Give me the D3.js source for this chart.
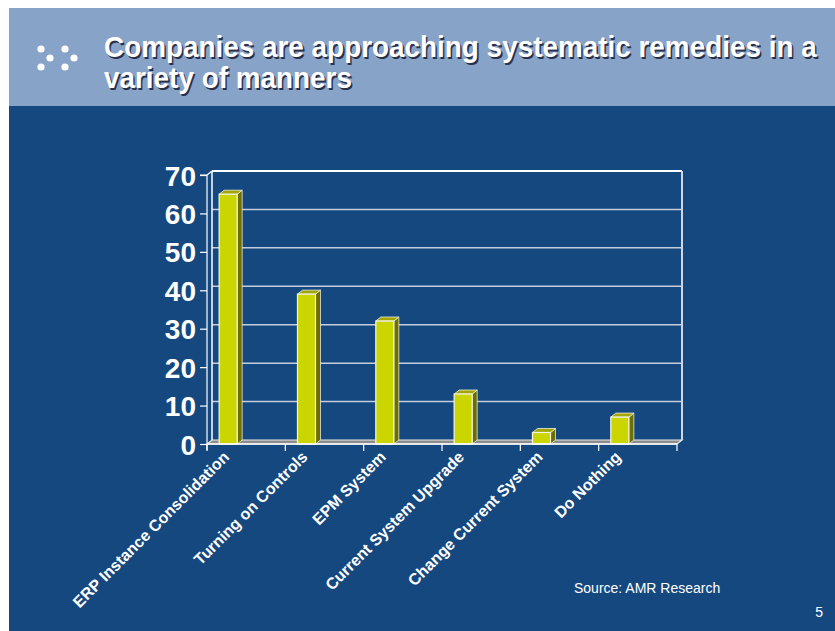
<!DOCTYPE html>
<html>
<head>
<meta charset="utf-8">
<script src="https://cdn.jsdelivr.net/npm/d3@7"></script>
<style>
  html, body { margin:0; padding:0; background:#fff; }
  svg { display:block; font-family: "Liberation Sans", Arial, sans-serif; }
</style>
</head>
<body>
<div id="chart"></div>
<script>
// data
const titleLines = ["Companies are approaching systematic remedies in a", "variety of manners"];
const categories = ["ERP Instance Consolidation", "Turning on Controls", "EPM System",
                    "Current System Upgrade", "Change Current System", "Do Nothing"];
const values = [65, 39, 32, 13, 3, 7];
const yTicks = [0, 10, 20, 30, 40, 50, 60, 70];
const sourceNote = "Source: AMR Research";
const pageNumber = "5";

const W = 835, H = 631;
const depth = { dx: 5, dy: -4 };   // fake 3d offset of the back wall

const svg = d3.select("#chart").append("svg")
    .attr("width", W)
    .attr("height", H);

// slide background
svg.append("rect").attr("x", 9).attr("y", 8).attr("width", W - 9).attr("height", H - 8)
    .attr("fill", "#164880");
svg.append("rect").attr("x", 9).attr("y", 8).attr("width", W - 9).attr("height", 98)
    .attr("fill", "#87a3c8");

// bullet dots
const dots = [[41, 49], [50, 58], [41, 67], [65, 49], [74, 58], [65, 67]];
svg.selectAll(".dot").data(dots).enter().append("circle")
    .attr("class", "dot")
    .attr("cx", d => d[0]).attr("cy", d => d[1]).attr("r", 3.6)
    .attr("fill", "#fff");

// title (condensed bold with a drop shadow)
const titleG = svg.append("g").attr("transform", "translate(104,0)");
function titleText(g, fill, off) {
    g.selectAll(null).data(titleLines).enter().append("text")
        .attr("x", off)
        .attr("y", (d, i) => 57 + i * 31 + off)
        .attr("font-size", "29px")
        .attr("font-weight", "bold")
        .attr("fill", fill)
        .text(d => d);
}
const shadowG = titleG.append("g");
const mainG = titleG.append("g");
titleText(shadowG, "#2a3048", 1.6);
titleText(mainG, "#ffffff", 0);
const w1 = mainG.select("text").node().getComputedTextLength();
const sx = 713 / w1;
titleG.attr("transform", "translate(104,0) scale(" + sx + ",1)");

// scales
const x = d3.scaleBand().domain(categories).range([207, 677]).padding(0);
const y = d3.scaleLinear().domain([0, 70]).range([444, 175]);
const bw = x.bandwidth();

const g = svg.append("g");

// floor
const x0 = 207, x1 = 677, yb = y(0), yt = y(70);
g.append("path")
    .attr("d", `M${x0},${yb} L${x0 + depth.dx},${yb + depth.dy} L${x1 + depth.dx},${yb + depth.dy} L${x1},${yb} Z`)
    .attr("fill", "#8c8c8c").attr("stroke", "#e8e8e8").attr("stroke-width", 1.2);

// back wall gridlines
g.selectAll(".grid").data(yTicks.filter(d => d > 0)).enter().append("line")
    .attr("class", "grid")
    .attr("x1", x0 + depth.dx).attr("x2", x1 + depth.dx)
    .attr("y1", d => y(d) + depth.dy).attr("y2", d => y(d) + depth.dy)
    .attr("stroke", d => d === 70 ? "#ffffff" : "#c3cddd")
    .attr("stroke-width", d => d === 70 ? 2 : 1.5);

// wall edges
g.append("line")
    .attr("x1", x0 + depth.dx).attr("x2", x0 + depth.dx)
    .attr("y1", yt + depth.dy).attr("y2", yb + depth.dy)
    .attr("stroke", "#ffffff").attr("stroke-width", 1.5);
g.append("line")
    .attr("x1", x1 + depth.dx).attr("x2", x1 + depth.dx)
    .attr("y1", yt + depth.dy).attr("y2", yb + depth.dy)
    .attr("stroke", "#d0d6e2").attr("stroke-width", 2);
g.append("line")
    .attr("x1", x0).attr("x2", x0 + depth.dx)
    .attr("y1", yt).attr("y2", yt + depth.dy)
    .attr("stroke", "#ffffff").attr("stroke-width", 1.2);

// y axis
const yAxisCall = d3.axisLeft(y).tickValues(yTicks).tickSize(7).tickPadding(4);
const yAxis = svg.append("g")
    .attr("class", "y axis")
    .attr("transform", "translate(" + x0 + ",0)")
    .call(yAxisCall);
yAxis.select(".domain").attr("stroke", "#fff").attr("stroke-width", 1.2)
    .attr("d", `M-7,${yt}H0V${yb + 6}`);
yAxis.selectAll(".tick line").attr("stroke", "#fff").attr("stroke-width", 1.2);
yAxis.selectAll(".tick text")
    .attr("fill", "#fff")
    .attr("font-size", "28px")
    .attr("font-weight", "bold")
    .attr("font-family", '"Liberation Sans", Arial, sans-serif')
    .attr("dy", "0.36em");

// x ticks at band edges
const edges = categories.map(c => x(c)).concat([x1]);
g.selectAll(".xtick").data(edges).enter().append("line")
    .attr("class", "xtick")
    .attr("x1", d => d).attr("x2", d => d)
    .attr("y1", yb).attr("y2", yb + 7)
    .attr("stroke", "#fff").attr("stroke-width", 1.2);

// bars (front, side, top)
const barW = bw * 0.23, barOff = bw * 0.155;
const bars = g.selectAll(".bar").data(values).enter().append("g").attr("class", "bar");
bars.append("path")
    .attr("d", (d, i) => {
        const bx = x(categories[i]) + barOff + barW, top = y(d);
        return `M${bx},${top} L${bx + depth.dx},${top + depth.dy} L${bx + depth.dx},${yb + depth.dy} L${bx},${yb} Z`;
    })
    .attr("fill", "#6e6e00").attr("stroke", "#e8e8d8").attr("stroke-width", 0.8);
bars.append("path")
    .attr("d", (d, i) => {
        const bx = x(categories[i]) + barOff, top = y(d);
        return `M${bx},${top} L${bx + depth.dx},${top + depth.dy} L${bx + barW + depth.dx},${top + depth.dy} L${bx + barW},${top} Z`;
    })
    .attr("fill", "#a3a600").attr("stroke", "#f0f0e0").attr("stroke-width", 0.8);
bars.append("rect")
    .attr("x", (d, i) => x(categories[i]) + barOff)
    .attr("y", d => y(d))
    .attr("width", barW)
    .attr("height", d => yb - y(d))
    .attr("fill", "#cbd600").attr("stroke", "#f4f4ec").attr("stroke-width", 1.2);

// front floor edge on top of bars
g.append("line")
    .attr("x1", x0).attr("x2", x1).attr("y1", yb).attr("y2", yb)
    .attr("stroke", "#ffffff").attr("stroke-width", 1.5);

// category labels, rotated
svg.selectAll(".xlabel").data(categories).enter().append("text")
    .attr("class", "xlabel")
    .attr("transform", d => "translate(" + (x(d) + bw / 2 - 16) + "," + (yb + 14) + ") rotate(-45)")
    .attr("text-anchor", "end")
    .attr("font-size", "16px")
    .attr("font-weight", "bold")
    .attr("fill", "#fff")
    .text(d => d);

// source and page number
svg.append("text")
    .attr("x", 574).attr("y", 593)
    .attr("font-size", "14px")
    .attr("fill", "#fff")
    .text(sourceNote);
svg.append("text")
    .attr("x", 823).attr("y", 617)
    .attr("text-anchor", "end")
    .attr("font-size", "14px")
    .attr("fill", "#fff")
    .text(pageNumber);
</script>
</body>
</html>
